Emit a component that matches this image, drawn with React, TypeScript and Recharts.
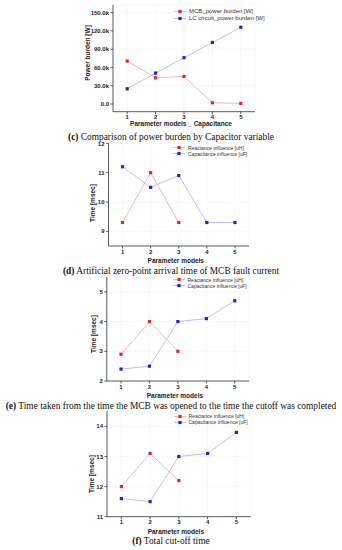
import React from "react";
import { LineChart, Line, XAxis, YAxis, CartesianGrid, Legend } from "recharts";

export const models = [1, 2, 3, 4, 5];

// (c) power burden [W]
export const mcbPower = [70500, 43000, 45400, 2000, 1000];
export const lcPower = [25000, 50800, 76000, 101000, 126000];
export const powerTicks = [0, 30000, 60000, 90000, 120000, 150000];

// (d) artificial zero-point arrival time [msec]
export const zeroReactance = [9.3, 11.0, 9.3];
export const zeroCapacitance = [11.2, 10.5, 10.9, 9.3, 9.3];
export const zeroTicks = [9, 10, 11, 12];

// (e) MCB opened -> cutoff completed [msec]
export const openReactance = [2.9, 4.0, 3.0];
export const openCapacitance = [2.4, 2.5, 4.0, 4.1, 4.7];
export const openTicks = [2, 3, 4, 5];

// (f) total cut-off time [msec]
export const totalReactance = [12.0, 13.1, 12.2];
export const totalCapacitance = [11.6, 11.5, 13.0, 13.1, 13.8];
export const totalTicks = [11, 12, 13, 14];

const RED = "#e3262c";
const RED_LINE = "#f5a3a3";
const BLUE = "#2323c8";
const BLUE_LINE = "#aeb0ec";
const SANS = "'Liberation Sans', Arial, sans-serif";
const SERIF = "'Liberation Serif', 'Times New Roman', serif";

const square = (color: string) => (p: any) => {
  if (p.cx == null || p.cy == null || p.value == null) return <g key={p.key} />;
  return <rect key={p.key} x={p.cx - 1.6} y={p.cy - 1.6} width={3.2} height={3.2} fill={color} />;
};

type PanelProps = {
  top: number;
  height: number;
  left: number;
  right: number;
  plotTop: number;
  plotBottom: number;
  domain: [number, number];
  ticks: number[];
  fmt?: (v: number) => string;
  a: number[];
  b: number[];
  nameA: string;
  nameB: string;
  yLabel: string;
  yLabelY: number;
  yLabelX: number;
  xLabel: string;
  xLabelY: number;
  legendTop: number;
  legendLeft: number;
  legendSize: number;
  tag: string;
  caption: string;
  captionY: number;
};

function Panel(p: PanelProps) {
  const rows = models.map((x, i) => ({
    x,
    a: p.a[i] ?? null,
    b: p.b[i] ?? null,
  }));
  const xAxisH = p.height - (p.plotBottom - p.top);
  const tickStyle = { fontSize: 6, fontWeight: 700, fontFamily: SANS, fill: "#222" };
  const renderLegend = () => (
    <div style={{ fontFamily: SANS, fontSize: p.legendSize, color: "#333", lineHeight: `${p.legendSize + 1.2}px` }}>
      {[
        { n: p.nameA, c: RED, l: RED_LINE },
        { n: p.nameB, c: BLUE, l: BLUE_LINE },
      ].map((e) => (
        <div key={e.n} style={{ display: "flex", alignItems: "center", whiteSpace: "nowrap" }}>
          <svg width={12} height={5} style={{ marginRight: 3 }}>
            <line x1={0} y1={2.5} x2={12} y2={2.5} stroke={e.l} strokeWidth={0.8} />
            <rect x={4.4} y={0.9} width={3.2} height={3.2} fill={e.c} />
          </svg>
          {e.n}
        </div>
      ))}
    </div>
  );
  return (
    <>
      <div style={{ position: "absolute", left: 0, top: p.top }}>
        <LineChart
          width={342}
          height={p.height}
          data={rows}
          margin={{ top: p.plotTop - p.top, right: 342 - p.right, bottom: 0, left: 0 }}
        >
          <CartesianGrid stroke="#e2e2e2" strokeDasharray="1 1.5" strokeWidth={0.6} />
          <XAxis
            type="number"
            dataKey="x"
            domain={[0.5, 5.5]}
            ticks={models}
            height={xAxisH}
            tick={tickStyle}
            tickSize={2.5}
            tickMargin={1}
            stroke="#333"
            strokeWidth={0.8}
            label={{
              content: () => (
                <text
                  x={(p.left + p.right) / 2 - 3}
                  y={p.xLabelY - p.top}
                  textAnchor="middle"
                  dominantBaseline="middle"
                  style={{ fontSize: 6.5, fontWeight: 700, fontFamily: SANS, fill: "#222" }}
                >
                  {p.xLabel}
                </text>
              ),
            }}
          />
          <YAxis
            type="number"
            domain={p.domain}
            ticks={p.ticks}
            width={p.left}
            allowDataOverflow
            tickFormatter={p.fmt}
            tick={tickStyle}
            tickSize={2.5}
            tickMargin={1.5}
            stroke="#333"
            strokeWidth={0.8}
            label={{
              content: () => (
                <text
                  x={p.yLabelX}
                  y={p.yLabelY - p.top}
                  textAnchor="middle"
                  dominantBaseline="middle"
                  transform={`rotate(-90 ${p.yLabelX} ${p.yLabelY - p.top})`}
                  style={{ fontSize: 6.5, fontWeight: 700, fontFamily: SANS, fill: "#222" }}
                >
                  {p.yLabel}
                </text>
              ),
            }}
          />
          <Legend
            content={renderLegend}
            layout="horizontal"
            align="center"
            verticalAlign="middle"
            wrapperStyle={{ position: "absolute", top: p.legendTop - p.top, left: p.legendLeft, width: "auto" }}
          />
          <Line
            dataKey="a"
            name={p.nameA}
            stroke={RED_LINE}
            strokeWidth={0.8}
            dot={square(RED)}
            activeDot={false}
            isAnimationActive={false}
          />
          <Line
            dataKey="b"
            name={p.nameB}
            stroke={BLUE_LINE}
            strokeWidth={0.8}
            dot={square(BLUE)}
            activeDot={false}
            isAnimationActive={false}
          />
        </LineChart>
      </div>
      <div
        style={{
          position: "absolute",
          left: 0,
          top: p.captionY - 6.5,
          width: 342,
          textAlign: "center",
          fontFamily: SERIF,
          fontSize: 9.4,
          lineHeight: "13px",
          color: "#111",
          whiteSpace: "nowrap",
        }}
      >
        <b>{p.tag}</b> {p.caption}
      </div>
    </>
  );
}

const powerFmt = (v: number) => (v === 0 ? "0.0" : `${(v / 1000).toFixed(1)}k`);

export default function App() {
  return (
    <div style={{ position: "absolute", left: 0, top: 0, width: 342, height: 550, background: "#fff", overflow: "hidden" }}>
      <Panel
        top={0}
        height={129}
        left={113}
        right={255}
        plotTop={5}
        plotBottom={111.7}
        domain={[-12600, 162500]}
        ticks={powerTicks}
        fmt={powerFmt}
        a={mcbPower}
        b={lcPower}
        nameA="MCB_power burden [W]"
        nameB="LC circuit_power burden [W]"
        yLabel="Power burden [W]"
        yLabelX={88}
        yLabelY={53}
        xLabel="Parameter models _ Capacitance"
        xLabelY={124.5}
        legendTop={8}
        legendLeft={174}
        legendSize={6}
        tag="(c)"
        caption="Comparison of power burden by Capacitor variable"
        captionY={137}
      />
      <Panel
        top={141}
        height={126}
        left={108.5}
        right={249}
        plotTop={143.3}
        plotBottom={246}
        domain={[8.5, 12]}
        ticks={zeroTicks}
        a={zeroReactance}
        b={zeroCapacitance}
        nameA="Reactance influence [uH]"
        nameB="Capacitance influence [uF]"
        yLabel="Time [msec]"
        yLabelX={93}
        yLabelY={203}
        xLabel="Parameter models"
        xLabelY={261.7}
        legendTop={144.5}
        legendLeft={173}
        legendSize={5}
        tag="(d)"
        caption="Artificial zero-point arrival time of MCB fault current"
        captionY={271.7}
      />
      <Panel
        top={275}
        height={126}
        left={106.8}
        right={249}
        plotTop={277}
        plotBottom={381}
        domain={[2, 5.5]}
        ticks={openTicks}
        a={openReactance}
        b={openCapacitance}
        nameA="Reactance influence [uH]"
        nameB="Capacitance influence [uF]"
        yLabel="Time [msec]"
        yLabelX={94}
        yLabelY={334}
        xLabel="Parameter models"
        xLabelY={396.7}
        legendTop={276.5}
        legendLeft={172.5}
        legendSize={5}
        tag="(e)"
        caption="Time taken from the time the MCB was opened to the time the cutoff was completed"
        captionY={406.7}
      />
      <Panel
        top={409}
        height={128}
        left={107}
        right={250.7}
        plotTop={411.3}
        plotBottom={516.7}
        domain={[11, 14.5]}
        ticks={totalTicks}
        a={totalReactance}
        b={totalCapacitance}
        nameA="Reactance influence [uH]"
        nameB="Capacitance influence [uF]"
        yLabel="Time [msec]"
        yLabelX={92}
        yLabelY={474}
        xLabel="Parameter models"
        xLabelY={532.7}
        legendTop={413}
        legendLeft={173.5}
        legendSize={5}
        tag="(f)"
        caption="Total cut-off time"
        captionY={541.7}
      />
    </div>
  );
}
